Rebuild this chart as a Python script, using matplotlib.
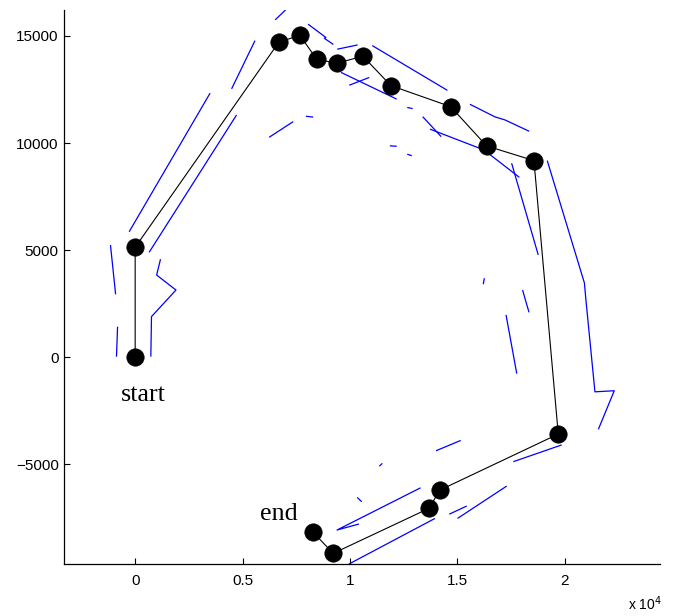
import matplotlib
matplotlib.use("Agg")
import matplotlib.pyplot as plt

# Path of the black markers (in order from start to end)
path_x = [0, 0, 6690, 7670, 8450, 9380, 10605, 11910, 14690, 16367, 18570,
          19703, 14192, 13680, 9222, 8290]
path_y = [0, 5135, 14706, 15033, 13912, 13725, 14052, 12680, 11700, 9865, 9180,
          -3581, -6195, -7050, -9150, -8170]

# Blue line segments / polylines (x list, y list)
blue_segments = [
    ([-280, 3490], [5860, 12330]),
    ([4490, 5580], [12530, 14780]),
    ([650, 4720], [4900, 11310]),
    ([6520, 7010], [15750, 16220]),
    ([-1150, -910], [5240, 2940]),
    ([-820, -870], [1430, 30]),
    ([1180, 1000, 1900, 760, 730], [4580, 3840, 3140, 1900, 30]),
    ([8050, 8880, 8810, 9230], [15550, 14930, 14890, 14600]),
    ([9410, 10360], [14380, 14580]),
    ([11040, 14540], [14550, 12460]),
    ([9580, 12180], [13300, 12050]),
    ([9970, 10900], [12700, 13060]),
    ([7950, 8290], [11250, 11210]),
    ([6240, 7360], [10270, 11000]),
    ([11860, 12180], [9870, 9850]),
    ([12670, 12920], [11660, 11610]),
    ([12670, 12880], [9480, 9410]),
    ([13390, 14250], [11230, 10300]),
    ([13730, 16240, 17890], [10650, 9680, 8400]),
    ([15590, 16760, 17220, 18350], [11810, 11220, 11080, 10550]),
    ([17530, 18770], [9060, 4780]),
    ([19190, 20920, 20990, 21410, 22310, 21570], [9180, 3470, 2680, -1610, -1560, -3360]),
    ([16260, 16210], [3690, 3410]),
    ([18040, 18340], [3140, 2100]),
    ([17270, 17770], [1980, -760]),
    ([14010, 15160], [-4360, -3880]),
    ([11370, 11510], [-5080, -4950]),
    ([10340, 10550], [-6540, -6740]),
    ([10420, 9400, 13290], [-7780, -8060, -6090]),
    ([9950, 13960], [-9650, -7520]),
    ([14630, 15440], [-7320, -6940]),
    ([15010, 17300], [-7520, -6010]),
    ([17610, 19860], [-4870, -4090]),
]

# Annotations
start_label, start_pos = "start", (360, -2026)
end_label, end_pos = "end", (6684, -7597)

# Axis ticks
x_ticks = [0, 5000, 10000, 15000, 20000]
x_tick_labels = ["0", "0.5", "1", "1.5", "2"]
y_ticks = [-5000, 0, 5000, 10000, 15000]
y_tick_labels = ["\u22125000", "0", "5000", "10000", "15000"]
x_limits = (-3300, 24440)
y_limits = (-9660, 16210)

fig = plt.figure(figsize=(6.75, 6.16), dpi=100)
ax = fig.add_axes([64.3 / 675, 1 - 564.3 / 616, (660 - 64.3) / 675, (564.3 - 10) / 616])

for sx, sy in blue_segments:
    ax.plot(sx, sy, color="#0000ff", lw=0.9, solid_capstyle="butt", zorder=2)

ax.plot(path_x, path_y, color="black", lw=0.8, zorder=3,
        marker="o", markersize=12.5, markerfacecolor="black",
        markeredgecolor="black", markeredgewidth=0.5)

ax.text(start_pos[0], start_pos[1], start_label, ha="center", va="baseline",
        fontsize=18.7, family="Liberation Serif")
ax.text(end_pos[0], end_pos[1], end_label, ha="center", va="baseline",
        fontsize=18.7, family="Liberation Serif")

ax.set_xlim(*x_limits)
ax.set_ylim(*y_limits)
ax.set_xticks(x_ticks)
ax.set_xticklabels(x_tick_labels)
ax.set_yticks(y_ticks)
ax.set_yticklabels(y_tick_labels)

for s in ["top", "right"]:
    ax.spines[s].set_visible(False)
for s in ["left", "bottom"]:
    ax.spines[s].set_linewidth(0.9)

ax.tick_params(axis="both", direction="in", length=4, width=0.8,
               labelsize=11)
ax.tick_params(axis="x", pad=7)
ax.tick_params(axis="y", pad=4)
for lab in ax.get_xticklabels() + ax.get_yticklabels():
    lab.set_family("Liberation Sans")

fig.text(662 / 675, 1 - 604 / 616, "x 10$^4$", ha="right", va="center",
         fontsize=10, family="Liberation Sans")

fig.savefig("out.png", dpi=100)
